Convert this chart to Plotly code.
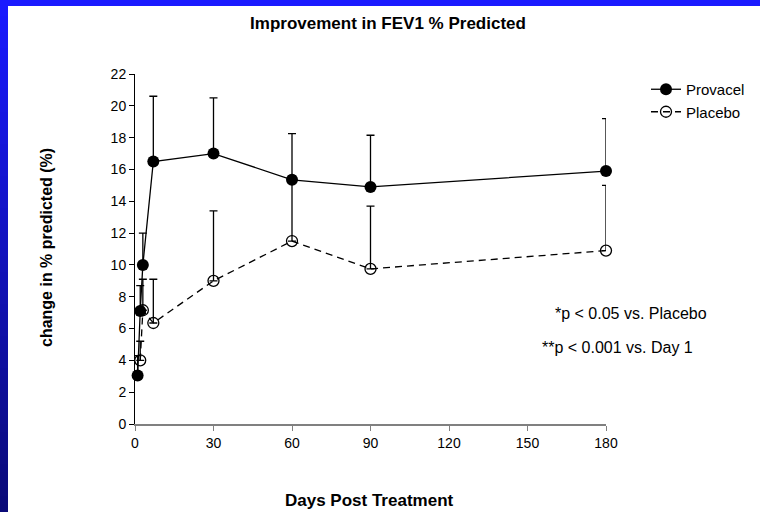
import plotly.graph_objects as go

# Mean change in FEV1 % predicted by day, with upper SD bars
provacel_days = [1, 2, 3, 7, 30, 60, 90, 180]
provacel_mean = [3.05, 7.1, 10.0, 16.5, 17.0, 15.35, 14.9, 15.9]
provacel_err = [1.25, 1.6, 2.0, 4.1, 3.5, 2.9, 3.25, 3.3]

placebo_days = [2, 3, 7, 30, 60, 90, 180]
placebo_mean = [4.0, 7.15, 6.35, 9.0, 11.5, 9.75, 10.9]
placebo_err = [1.2, 1.95, 2.75, 4.4, 4.1, 3.95, 4.1]

x_ticks = [0, 30, 60, 90, 120, 150, 180]
y_ticks = list(range(0, 23, 2))

FONT = "Liberation Sans, Arial, sans-serif"
W, H = 760, 512
L, R, T, B = 135, 154, 74, 88
PW, PH = W - L - R, H - T - B


def px_x(px):
    """Pixel column -> paper x."""
    return (px - L) / PW


def px_y(py):
    """Pixel row (from top) -> paper y."""
    return (H - B - py) / PH


fig = go.Figure()

fig.add_trace(go.Scatter(
    x=provacel_days, y=provacel_mean, name="Provacel",
    mode="lines+markers",
    line=dict(color="black", width=1.3),
    marker=dict(symbol="circle", size=12, color="black"),
    error_y=dict(type="data", symmetric=False, array=provacel_err,
                 arrayminus=[0] * len(provacel_err),
                 color="black", thickness=1.3, width=4),
    cliponaxis=False,
))

fig.add_trace(go.Scatter(
    x=placebo_days, y=placebo_mean, name="Placebo",
    mode="lines+markers",
    line=dict(color="black", width=1.3, dash="7px,5px"),
    marker=dict(symbol="circle-open", size=11, color="black",
                line=dict(width=1.3, color="black")),
    error_y=dict(type="data", symmetric=False, array=placebo_err,
                 arrayminus=[0] * len(placebo_err),
                 color="black", thickness=1.3, width=4),
    cliponaxis=False,
))

# slide frame: blue strip along the top and a vertical gradient down the left
shapes = []
n_bands = 64
top_rgb = (26, 26, 255)
bot_rgb = (10, 10, 120)
for i in range(n_bands):
    f = i / (n_bands - 1)
    c = tuple(round(top_rgb[k] + (bot_rgb[k] - top_rgb[k]) * f) for k in range(3))
    py0 = i * H / n_bands
    py1 = (i + 1) * H / n_bands + 1
    shapes.append(dict(type="rect", xref="paper", yref="paper",
                       x0=px_x(0), x1=px_x(8), y0=px_y(py1), y1=px_y(py0),
                       line=dict(width=0), fillcolor="rgb(%d,%d,%d)" % c,
                       layer="above"))
shapes.append(dict(type="rect", xref="paper", yref="paper",
                   x0=px_x(0), x1=px_x(W), y0=px_y(6), y1=px_y(0),
                   line=dict(width=0), fillcolor="#1a1aff", layer="above"))

annotations = [
    dict(text="*p < 0.05 vs. Placebo", x=px_x(553), y=px_y(313),
         xref="paper", yref="paper", xanchor="left", yanchor="middle",
         showarrow=False, font=dict(family=FONT, size=16, color="black")),
    dict(text="**p < 0.001 vs. Day 1", x=px_x(540), y=px_y(347),
         xref="paper", yref="paper", xanchor="left", yanchor="middle",
         showarrow=False, font=dict(family=FONT, size=16, color="black")),
    dict(text="<b>change in % predicted (%)</b>", x=px_x(46), y=px_y(248),
         xref="paper", yref="paper", xanchor="center", yanchor="middle",
         textangle=-90, showarrow=False,
         font=dict(family=FONT, size=16, color="black")),
    dict(text="<b>Days Post Treatment</b>", x=px_x(369), y=px_y(500),
         xref="paper", yref="paper", xanchor="center", yanchor="middle",
         showarrow=False, font=dict(family=FONT, size=17, color="black")),
]

fig.update_layout(
    width=W, height=H,
    margin=dict(l=L, r=R, t=T, b=B, pad=0, autoexpand=False),
    paper_bgcolor="white", plot_bgcolor="white",
    title=dict(text="<b>Improvement in FEV1 % Predicted</b>",
               x=388 / W, xanchor="center", y=1 - 23 / H, yanchor="middle",
               xref="container", yref="container",
               font=dict(family=FONT, size=17, color="black")),
    showlegend=True,
    legend=dict(x=px_x(646), y=px_y(73), xanchor="left", yanchor="top",
                font=dict(family=FONT, size=15, color="black"),
                bgcolor="rgba(0,0,0,0)", tracegroupgap=0, itemwidth=30,
                borderwidth=0),
    shapes=shapes,
    annotations=annotations,
)

fig.update_xaxes(
    range=[0, 180], tickvals=x_ticks, ticktext=[str(v) for v in x_ticks],
    showgrid=False, zeroline=False,
    showline=True, linecolor="#808080", linewidth=2,
    ticks="outside", ticklen=5, tickcolor="#808080", tickwidth=1,
    tickfont=dict(family=FONT, size=14, color="black"),
)
fig.update_yaxes(
    range=[0, 22], tickvals=y_ticks, ticktext=[str(v) for v in y_ticks],
    showgrid=False, zeroline=False,
    showline=True, linecolor="black", linewidth=1,
    ticks="outside", ticklen=5, tickcolor="black", tickwidth=1,
    tickfont=dict(family=FONT, size=14, color="black"),
)

fig.write_html("out.html")
